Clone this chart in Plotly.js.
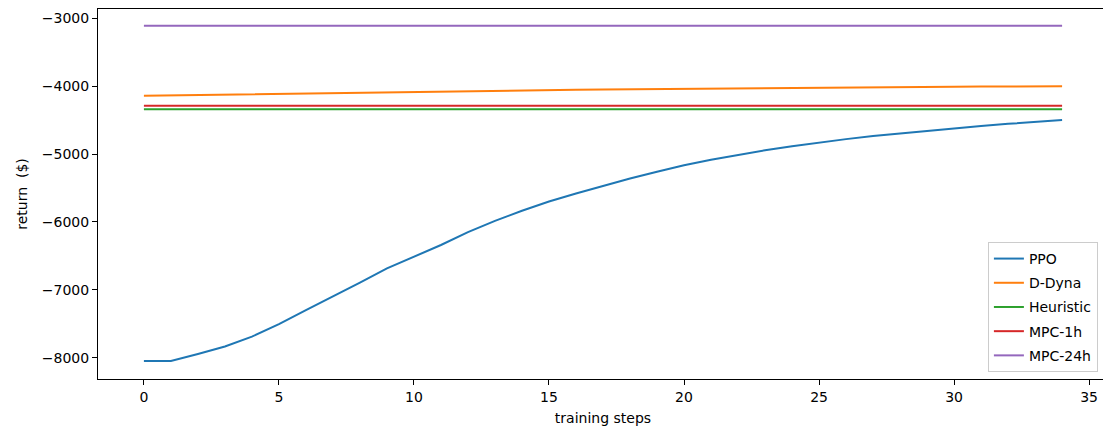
<!DOCTYPE html>
<html>
<head>
<meta charset="utf-8">
<script src="https://cdn.plot.ly/plotly-3.0.1.min.js"></script>
<style>
html, body { margin: 0; padding: 0; overflow: hidden; background: #fff; }
#chart { width: 1110px; height: 432px; }
</style>
</head>
<body>
<div id="chart"></div>
<script>
const steps = Array.from({length: 35}, (_, i) => i);
const seriesNames = ["PPO", "D-Dyna", "Heuristic", "MPC-1h", "MPC-24h"];
const ppo = [-8050, -8050, -7945, -7835, -7690, -7505, -7300, -7100, -6895, -6685,
             -6510, -6340, -6150, -5985, -5835, -5700, -5580, -5465, -5360, -5260,
             -5165, -5085, -5010, -4945, -4885, -4830, -4780, -4735, -4695, -4655,
             -4620, -4585, -4555, -4525, -4500];
const dDyna = [-4140, -4134, -4128, -4122, -4116, -4110, -4104, -4098, -4092, -4087,
               -4082, -4077, -4072, -4067, -4062, -4058, -4054, -4050, -4046, -4042,
               -4038, -4035, -4032, -4029, -4026, -4023, -4020, -4017, -4014, -4011,
               -4008, -4006, -4004, -4002, -4000];
const heuristic = Array(35).fill(-4340);
const mpc1h = Array(35).fill(-4290);
const mpc24h = Array(35).fill(-3110);
const colors = ["#1f77b4", "#ff7f0e", "#2ca02c", "#d62728", "#9467bd"];
const allSeries = [ppo, dDyna, heuristic, mpc1h, mpc24h];

const traces = allSeries.map((ys, i) => ({
  x: steps, y: ys, type: "scatter", mode: "lines",
  name: seriesNames[i], legendgroup: "g" + i,
  line: {color: colors[i], width: 2}
}));

const font = {family: "DejaVu Sans, sans-serif", size: 14, color: "#000"};
const layout = {
  width: 1110, height: 432,
  margin: {l: 98, r: 2, t: 9, b: 53},
  paper_bgcolor: "#fff", plot_bgcolor: "#fff",
  font: font,
  showlegend: true,
  legend: {
    x: 0.99, y: 0.019, xanchor: "right", yanchor: "bottom",
    bgcolor: "rgba(255,255,255,0.8)", bordercolor: "#cccccc", borderwidth: 1,
    font: {family: "DejaVu Sans, sans-serif", size: 14, color: "#000"},
    traceorder: "grouped", tracegroupgap: 3
  },
  xaxis: {
    range: [-1.7, 35.7], tickvals: [0, 5, 10, 15, 20, 25, 30, 35],
    showgrid: false, zeroline: false,
    showline: true, linecolor: "#000", linewidth: 1, mirror: true,
    ticks: "outside", ticklen: 5, tickcolor: "#000", tickwidth: 1,
    title: {text: "training steps", font: font, standoff: 9}
  },
  yaxis: {
    range: [-8314, -2863], tickvals: [-8000, -7000, -6000, -5000, -4000, -3000],
    showgrid: false, zeroline: false,
    showline: true, linecolor: "#000", linewidth: 1, mirror: true,
    ticks: "outside", ticklen: 5, tickcolor: "#000", tickwidth: 1,
    title: {text: "return  ($)", font: font, standoff: 10}
  }
};
Plotly.newPlot("chart", traces, layout, {displayModeBar: false, staticPlot: true});
</script>
</body>
</html>
